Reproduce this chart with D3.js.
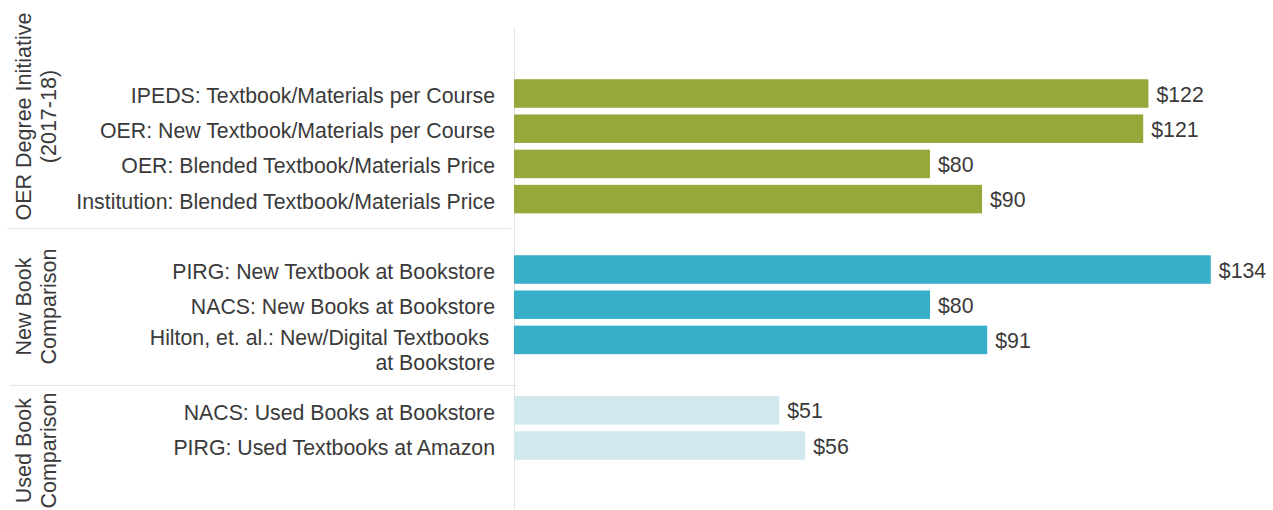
<!DOCTYPE html>
<html>
<head>
<meta charset="utf-8">
<script src="https://cdn.jsdelivr.net/npm/d3@7/dist/d3.min.js"></script>
<style>
  html, body { margin: 0; padding: 0; background: #fff; }
  svg { display: block; }
  text { font-family: "Liberation Sans", Arial, Helvetica, sans-serif; fill: #3a3a3a; }
</style>
</head>
<body>
<svg id="chart" width="1273" height="510"></svg>
<script>
// ---- data ----
const groupNames = [["OER Degree Initiative", "(2017-18)"], ["New Book", "Comparison"], ["Used Book", "Comparison"]];
const oerCategories = [
  ["IPEDS: Textbook/Materials per Course"],
  ["OER: New Textbook/Materials per Course"],
  ["OER: Blended Textbook/Materials Price"],
  ["Institution: Blended Textbook/Materials Price"]
];
const oerValues = [122, 121, 80, 90];
const newCategories = [
  ["PIRG: New Textbook at Bookstore"],
  ["NACS: New Books at Bookstore"],
  ["Hilton, et. al.: New/Digital Textbooks\u00a0", "at Bookstore"]
];
const newValues = [134, 80, 91];
const usedCategories = [
  ["NACS: Used Books at Bookstore"],
  ["PIRG: Used Textbooks at Amazon"]
];
const usedValues = [51, 56];
const groupColors = ["#97a83a", "#37afc8", "#d2e8ef"];

// ---- build rows (one blank slot between groups) ----
const groups = [
  { name: groupNames[0], cats: oerCategories, vals: oerValues, color: groupColors[0] },
  { name: groupNames[1], cats: newCategories, vals: newValues, color: groupColors[1] },
  { name: groupNames[2], cats: usedCategories, vals: usedValues, color: groupColors[2] }
];
const rows = [];
let slot = 0;
groups.forEach((g, gi) => {
  g.cats.forEach((c, i) => { rows.push({ label: c, value: g.vals[i], color: g.color, slot: slot, group: gi }); slot++; });
  slot++;
});
const nSlots = slot - 1;

// ---- layout ----
const svg = d3.select("#chart");
const axisX = 514;
const step = 35.2;
const firstCenter = 93.5;
const y = d3.scaleBand()
  .domain(d3.range(nSlots))
  .range([firstCenter - step / 2, firstCenter - step / 2 + step * nSlots])
  .paddingInner(0.19)
  .paddingOuter(0.095);
const yc = d3.scaleLinear().domain([0, 1]).range([firstCenter, firstCenter + step]);
const x = d3.scaleLinear().domain([0, 134]).range([axisX, axisX + 134 * 5.2]);
const mid = d => y(d.slot) + y.bandwidth() / 2;

// pane boundaries in slot units
const paneBounds = [-2.5, 3.81, 8.29, 12.0];

// separators
const sepSpecs = [{ x1: 7, x2: 511 }, { x1: 10, x2: 516 }];
svg.selectAll("line.sep").data(sepSpecs).enter().append("line")
  .attr("class", "sep")
  .attr("x1", d => d.x1).attr("x2", d => d.x2)
  .attr("y1", (d, i) => Math.round(yc(paneBounds[i + 1])) + 0.5)
  .attr("y2", (d, i) => Math.round(yc(paneBounds[i + 1])) + 0.5)
  .attr("stroke", "#e3e3e3").attr("stroke-width", 1);

// axis line
svg.append("line")
  .attr("x1", axisX + 0.5).attr("x2", axisX + 0.5)
  .attr("y1", 28).attr("y2", 510)
  .attr("stroke", "#e3e3e3").attr("stroke-width", 1);

// bars
svg.selectAll("rect.bar").data(rows).enter().append("rect")
  .attr("class", "bar")
  .attr("x", x(0))
  .attr("y", d => y(d.slot))
  .attr("width", d => x(d.value) - x(0))
  .attr("height", y.bandwidth())
  .attr("fill", d => d.color);

// value labels
svg.selectAll("text.val").data(rows).enter().append("text")
  .attr("class", "val")
  .attr("x", d => x(d.value) + 8)
  .attr("y", d => mid(d) + 8)
  .attr("font-size", 21.3)
  .text(d => "$" + d.value);

// category labels
const cat = svg.selectAll("text.cat").data(rows).enter().append("text")
  .attr("class", "cat")
  .attr("text-anchor", "end")
  .attr("font-size", 21.3)
  .attr("x", 495)
  .attr("y", d => d.label.length > 1 ? mid(d) + 5.5 : mid(d) + 9.5)
  .style("white-space", "pre");
cat.selectAll("tspan").data(d => d.label).enter().append("tspan")
  .attr("x", 495)
  .attr("dy", (d, i) => i === 0 ? 0 : 24.5)
  .text(d => d);

// group labels
groups.forEach((g, gi) => {
  const c = yc((paneBounds[gi] + paneBounds[gi + 1]) / 2);
  const t = svg.append("text")
    .attr("text-anchor", "middle")
    .attr("font-size", 21.5)
    .attr("transform", `translate(31,${c}) rotate(-90)`);
  t.selectAll("tspan").data(g.name).enter().append("tspan")
    .attr("x", 0)
    .attr("dy", (d, i) => i === 0 ? 0 : 25)
    .text(d => d);
});
</script>
</body>
</html>
